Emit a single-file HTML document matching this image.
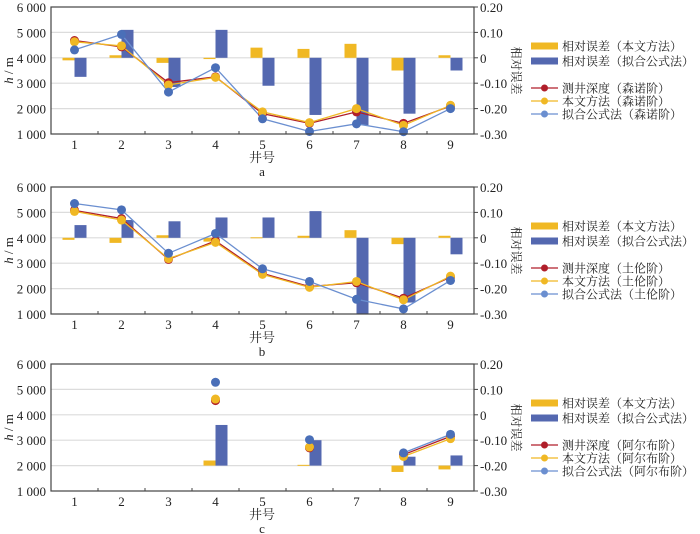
<!DOCTYPE html>
<html><head><meta charset="utf-8">
<style>
body{margin:0;background:#fff;}
svg{display:block;font-family:"Liberation Serif","Noto Serif CJK SC",serif;}
</style></head>
<body>
<svg id="chart" width="700" height="534" xmlns="http://www.w3.org/2000/svg"></svg>
<script>
const categories=[1,2,3,4,5,6,7,8,9];
const leftTicks=[1000,2000,3000,4000,5000,6000];
const leftTickLabels=["1 000","2 000","3 000","4 000","5 000","6 000"];
const rightTicks=[-0.3,-0.2,-0.1,0,0.1,0.2];
const rightTickLabels=["-0.30","-0.20","-0.10","0","0.10","0.20"];
const panelNames=["a","b","c"];
const stageNames=["森诺阶","土伦阶","阿尔布阶"];
const baselines=[0,0,-0.2];
const measuredA=[4680,4430,3020,3250,1800,1420,1870,1420,2100];
const methodA=[4630,4470,2930,3230,1870,1450,2000,1340,2130];
const fitA=[4310,4920,2650,3610,1600,1100,1400,1090,2000];
const errMethodA=[-0.01,0.01,-0.02,-0.005,0.04,0.035,0.055,-0.05,0.01];
const errFitA=[-0.075,0.11,-0.115,0.11,-0.11,-0.225,-0.265,-0.22,-0.05];
const measuredB=[5080,4760,3150,3880,2600,2080,2230,1620,2450];
const methodB=[5040,4700,3180,3820,2560,2050,2280,1560,2490];
const fitB=[5350,5100,3390,4170,2780,2280,1580,1200,2320];
const errMethodB=[-0.008,-0.02,0.01,-0.015,0.002,0.008,0.03,-0.025,0.008];
const errFitB=[0.05,0.07,0.065,0.08,0.08,0.105,-0.3,-0.255,-0.065];
const measuredC=[null,null,null,4560,null,2700,null,2430,3150];
const methodC=[null,null,null,4620,null,2730,null,2360,3060];
const fitC=[null,null,null,5280,null,3020,null,2500,3230];
const errMethodC=[null,null,null,-0.18,null,-0.197,null,-0.225,-0.215];
const errFitC=[null,null,null,-0.04,null,-0.1,null,-0.165,-0.16];

const panels=[
 {m:measuredA,y:methodA,f:fitA,ey:errMethodA,ef:errFitA},
 {m:measuredB,y:methodB,f:fitB,ey:errMethodB,ef:errFitB},
 {m:measuredC,y:methodC,f:fitC,ey:errMethodC,ef:errFitC}];
const tops=[7,187,364];
const NS="http://www.w3.org/2000/svg";
const svg=document.getElementById('chart');
const X0=51,X1=474,H=127;
const YEL="#f0b824",BLU="#5468b0",RED="#b01e2a",LBL="#6b8fd0";
function mk(tag,attrs,parent){const e=document.createElementNS(NS,tag);for(const k in attrs)e.setAttribute(k,attrs[k]);(parent||svg).appendChild(e);return e;}
function txt(s,attrs,parent){const e=mk('text',attrs,parent);e.textContent=s;return e;}
const band=(X1-X0)/categories.length;
function xs(i){return X0+band*(i+0.5);}

panels.forEach((p,pi)=>{
 const top=tops[pi];
 const g=mk('g',{});
 
 
 const yL=v=>top+H-(v-1000)/5000*H;
 const yR=v=>yL(4000+v*10000);
 leftTicks.forEach((t,k)=>{
  if(k>0&&k<leftTicks.length-1){const l=mk('line',{x1:X0,x2:X1,y1:yL(t),y2:yL(t),stroke:"#dcdcdc","stroke-width":1.2},g);
  }
  const tl=txt(leftTickLabels[k],{x:46,y:yL(t)+5,"text-anchor":"end","font-size":13,fill:"#222"},g);
  
 });
 rightTicks.forEach((t,k)=>{
  mk('line',{x1:X1,x2:X1+4,y1:yR(t),y2:yR(t),stroke:"#444"},g);
  const tl=txt(rightTickLabels[k],{x:480,y:yR(t)+5,"font-size":13,fill:"#222"},g);
  
 });
 const base=baselines[pi];
 categories.forEach((c,i)=>{
  if(p.ey[i]!=null){const a=yR(p.ey[i]),b=yR(base);
   const r=mk('rect',{x:xs(i)-12,y:Math.min(a,b),width:12,height:Math.max(Math.abs(a-b),1),fill:YEL},g);
   }
  if(p.ef[i]!=null){const a=yR(p.ef[i]),b=yR(base);
   const r=mk('rect',{x:xs(i),y:Math.min(a,b),width:12,height:Math.max(Math.abs(a-b),1),fill:BLU},g);
   }
 });
 [[p.m,RED,"measured"],[p.y,YEL,"method"],[p.f,LBL,"fit"]].forEach(([arr,col,nm])=>{
  let d="";let prev=false;
  arr.forEach((v,i)=>{if(v==null){prev=false;return;}d+=(prev?"L":"M")+xs(i)+","+yL(v);prev=true;});
  const pa=mk('path',{d:d,fill:"none",stroke:col,"stroke-width":1.3},g);
  
 });
 [[p.m,RED,"measured"],[p.y,YEL,"method"],[p.f,"#4a6fb8","fit"]].forEach(([arr,col,nm])=>{
  arr.forEach((v,i)=>{if(v==null)return;
   const ci=mk('circle',{cx:xs(i),cy:yL(v),r:4.5,fill:col},g);
   });
 });
 mk('rect',{x:X0,y:top,width:X1-X0,height:H,fill:"none",stroke:"#444","stroke-width":1.2},g);
 categories.forEach((c,i)=>{
  if(i>0)mk('line',{x1:X0+band*i,x2:X0+band*i,y1:top+H,y2:top+H-3,stroke:"#444"},g);
  const tl=txt(String(c),{x:xs(i),y:top+H+15,"text-anchor":"middle","font-size":13,fill:"#222"},g);
  
 });
 const xt=txt("井号",{x:262,y:top+H+28,"text-anchor":"middle","font-size":13,fill:"#222"},g);
 
 const pl=txt(panelNames[pi],{x:262,y:top+H+42,"text-anchor":"middle","font-size":13,fill:"#222"},g);
 
 const yt=txt("",{transform:`translate(13,${top+H/2}) rotate(-90)`,"text-anchor":"middle","font-size":13,fill:"#222"},g);
 yt.innerHTML='<tspan font-style="italic">h</tspan> / m';
 
 const rt=txt("相对误差",{transform:`translate(512,${top+H/2}) rotate(90)`,"text-anchor":"middle","font-size":12,fill:"#222"},g);
 
 const lg=mk('g',{},g);
 
 const ly=top+39;
 const items=[["bar",YEL,"相对误差（本文方法）",0],["bar",BLU,"相对误差（拟合公式法）",15],
  ["pt",RED,"测井深度（"+stageNames[pi]+"）",42],["pt",YEL,"本文方法（"+stageNames[pi]+"）",55],["pt",LBL,"拟合公式法（"+stageNames[pi]+"）",68]];
 items.forEach(([t,col,label,dy])=>{
  const e=mk('g',{},lg);
  
  const yy=ly+dy;
  if(t==="bar")mk('rect',{x:531,y:yy-3.5,width:27,height:7,fill:col},e);
  else{mk('line',{x1:531,x2:558,y1:yy,y2:yy,stroke:col,"stroke-width":1.3},e);mk('circle',{cx:544.5,cy:yy,r:3.5,fill:col},e);}
  txt(label,{x:562,y:yy+4.5,"font-size":12,fill:"#222"},e);
 });
});
</script>
</body></html>
